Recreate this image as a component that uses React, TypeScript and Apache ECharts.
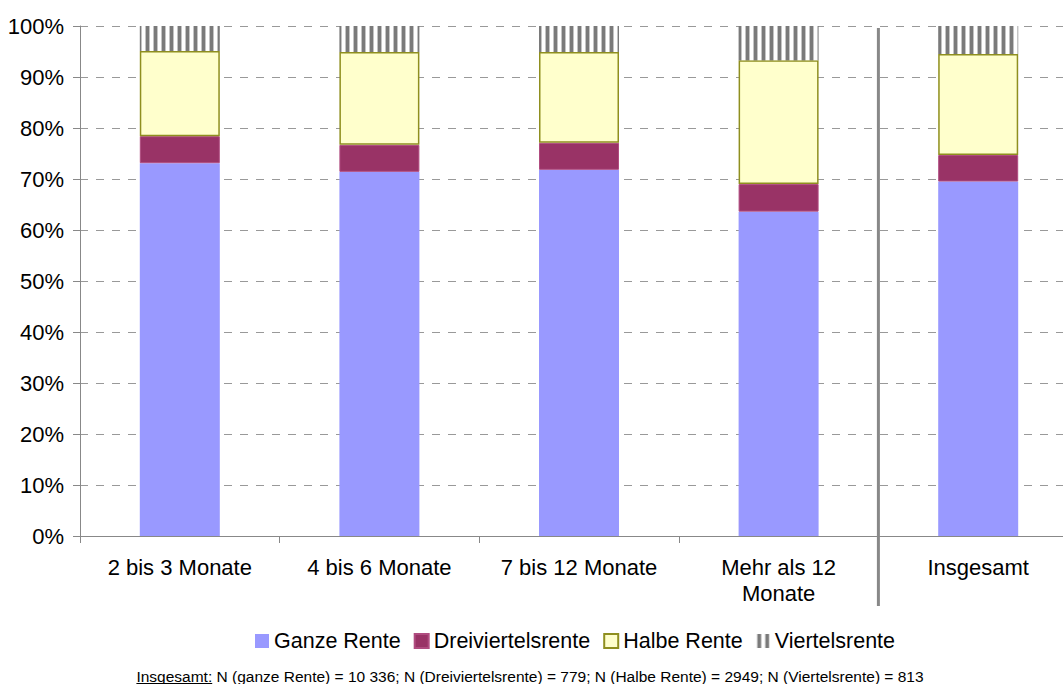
import React, { useEffect, useRef } from "react";
import * as echarts from "echarts";

const categories = ["2 bis 3 Monate", "4 bis 6 Monate", "7 bis 12 Monate", "Mehr als 12\nMonate", "Insgesamt"];
const ganzeRente = [73.1, 71.4, 71.8, 63.6, 69.5];
const dreiviertelsrente = [5.3, 5.3, 5.3, 5.4, 5.2];
const halbeRente = [16.7, 18.2, 17.8, 24.3, 19.8];
const viertelsrente = [4.9, 5.1, 5.1, 6.7, 5.5];
const seriesNames = ["Ganze Rente", "Dreiviertelsrente", "Halbe Rente", "Viertelsrente"];
const footnoteLabel = "Insgesamt:";
const footnoteText = " N (ganze Rente) = 10 336; N (Dreiviertelsrente) = 779; N (Halbe Rente) = 2949; N (Viertelsrente) = 813";

const FONT = "'Liberation Sans', Arial, Helvetica, sans-serif";
const W = 1063;
const H = 684;
const GRID_LEFT = 80;
const GRID_TOP = 26;
const GRID_BOTTOM = 148;
const GRID_WIDTH = 998;

function makeStripePattern(): HTMLCanvasElement {
  const c = document.createElement("canvas");
  c.width = 8;
  c.height = 8;
  const ctx = c.getContext("2d")!;
  ctx.fillStyle = "#ffffff";
  ctx.fillRect(0, 0, 8, 8);
  ctx.fillStyle = "#c4c4c4";
  ctx.fillRect(1, 0, 1, 8);
  ctx.fillRect(5, 0, 1, 8);
  ctx.fillStyle = "#7a7a7a";
  ctx.fillRect(2, 0, 3, 8);
  return c;
}

function measure(text: string, size: number): number {
  const c = document.createElement("canvas");
  const ctx = c.getContext("2d")!;
  ctx.font = `${size}px ${FONT}`;
  return ctx.measureText(text).width;
}

export default function App() {
  const ref = useRef<HTMLDivElement>(null);
  useEffect(() => {
    if (!ref.current) return;
    const chart = echarts.init(ref.current, undefined, { renderer: "svg" });
    const stripe = { image: makeStripePattern(), repeat: "repeat" } as any;

    const fnSize = 15.5;
    const w1 = measure(footnoteLabel, fnSize);
    const w2 = measure(footnoteText, fnSize);
    const fnStart = 530 - (w1 + w2) / 2;
    const fnY = 676;

    const catW = GRID_WIDTH / categories.length;
    const sepX = GRID_LEFT + catW * 4;

    const common = { type: "bar", stack: "total", barWidth: 80 };
    chart.setOption({
      animation: false,
      backgroundColor: "#ffffff",
      textStyle: { fontFamily: FONT },
      grid: {
        left: GRID_LEFT,
        top: GRID_TOP,
        bottom: GRID_BOTTOM,
        width: GRID_WIDTH,
        outerBoundsMode: "none",
        containLabel: false,
      },
      legend: {
        top: 625,
        left: 250,
        itemWidth: 14,
        itemHeight: 14,
        itemGap: 13,
        icon: "rect",
        data: seriesNames,
        textStyle: { fontSize: 21.5, color: "#000", fontFamily: FONT, padding: [0, 0, 0, 0] },
      },
      xAxis: {
        type: "category",
        data: categories,
        axisLine: { lineStyle: { color: "#888", width: 1 } },
        axisTick: { show: true, length: 7, interval: 0, lineStyle: { color: "#888" } },
        axisLabel: { interval: 0, hideOverlap: false, fontSize: 22, color: "#000", margin: 18, lineHeight: 26, fontFamily: FONT },
      },
      yAxis: {
        type: "value",
        min: 0,
        max: 100,
        interval: 10,
        axisLine: { show: true, lineStyle: { color: "#888", width: 1 } },
        axisTick: { show: true, length: 7, lineStyle: { color: "#888" } },
        axisLabel: { formatter: "{value}%", fontSize: 22, color: "#000", margin: 16, fontFamily: FONT },
        splitLine: { show: true, lineStyle: { color: "#999", type: [8, 8], width: 1 } },
      },
      series: [
        { ...common, name: seriesNames[0], data: ganzeRente, itemStyle: { color: "#9999ff" } },
        { ...common, name: seriesNames[1], data: dreiviertelsrente, itemStyle: { color: "#993366", borderColor: "#b04c80", borderWidth: 1 } },
        { ...common, name: seriesNames[2], data: halbeRente, itemStyle: { color: "#ffffcc", borderColor: "#8f8f1f", borderWidth: 1.5 } },
        { ...common, name: seriesNames[3], data: viertelsrente, itemStyle: { color: stripe } },
      ],
      graphic: [
        {
          type: "line",
          shape: { x1: sepX, y1: GRID_TOP + 2, x2: sepX, y2: 606 },
          style: { stroke: "#888", lineWidth: 3 },
          z: 100,
        },
        {
          type: "text",
          x: fnStart,
          y: fnY,
          style: { text: footnoteLabel, fontSize: fnSize, fontFamily: FONT, fill: "#000", verticalAlign: "middle" },
        },
        {
          type: "line",
          shape: { x1: fnStart, y1: fnY + 7.5, x2: fnStart + w1, y2: fnY + 7.5 },
          style: { stroke: "#000", lineWidth: 1 },
        },
        {
          type: "text",
          x: fnStart + w1,
          y: fnY,
          style: { text: footnoteText, fontSize: fnSize, fontFamily: FONT, fill: "#000", verticalAlign: "middle" },
        },
      ],
    });
    return () => chart.dispose();
  }, []);
  return <div ref={ref} style={{ position: "fixed", left: 0, top: 0, width: W, height: H, background: "#fff" }} />;
}
